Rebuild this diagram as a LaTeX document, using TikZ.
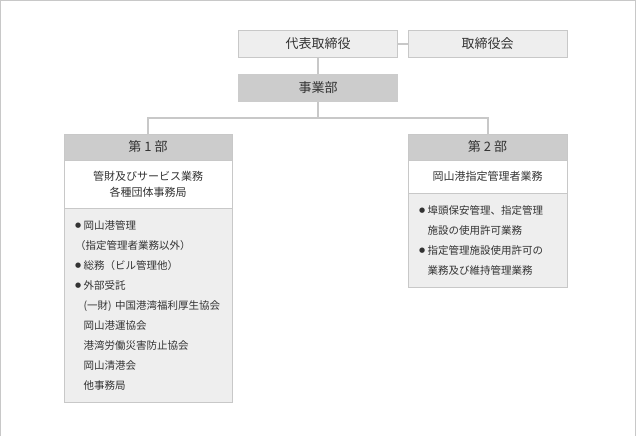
\documentclass[tikz,border=0pt]{standalone}
\usepackage{fontspec}
\setmainfont{Noto Sans CJK JP}
\newfontfamily\symfont{DejaVu Sans}
\usetikzlibrary{positioning}
\definecolor{linegray}{HTML}{C8C8C8}
\definecolor{boxgray}{HTML}{EEEEEE}
\definecolor{headgray}{HTML}{CCCCCC}
\definecolor{textgray}{HTML}{333333}
\newcommand{\bul}{\makebox[8.5pt][l]{\raisebox{1.6pt}{\symfont\fontsize{7}{7}\selectfont ●}}}
\newcommand{\ind}{\hspace*{8.5pt}}
\begin{document}
\begin{tikzpicture}[
  x=1pt, y=-1pt,
  every node/.style={inner sep=0pt, outer sep=0pt, text=textgray},
  topbox/.style={draw=linegray, line width=1pt, fill=boxgray, minimum width=159pt, minimum height=27pt, font=\fontsize{13}{13}\selectfont},
  divbox/.style={fill=headgray, minimum width=160pt, minimum height=28pt, font=\fontsize{13}{13}\selectfont},
  headbox/.style={draw=linegray, line width=1pt, fill=headgray, minimum height=26pt, font=\fontsize{13}{13}\selectfont},
  descbox/.style={draw=linegray, line width=1pt, fill=white, align=center, font=\fontsize{11}{16}\selectfont},
  listbox/.style={draw=linegray, line width=1pt, fill=boxgray, align=left, inner xsep=11pt, font=\fontsize{10.5}{20}\selectfont},
  link/.style={draw=linegray, line width=2pt}
]
\useasboundingbox (0,0) rectangle (636,436);
\draw[linegray, line width=1pt] (0.5,436) -- (0.5,0.5) -- (635.5,0.5) -- (635.5,436);

\node[topbox] (ceo) at (318,44) {代表取締役};
\node[topbox] (board) at (487.5,44) {取締役会};
\node[divbox] (div) at (318,88) {事業部};

\node[headbox, minimum width=168pt] (dept1) at (148,147) {第 1 部};
\node[descbox, minimum width=168pt, minimum height=48pt, below=0pt of dept1] (desc1) {管財及びサービス業務\\各種団体事務局};
\node[listbox, text width=146pt, minimum height=194pt, below=0pt of desc1] (list1) {%
\bul 岡山港管理\\
（指定管理者業務以外）\\
\bul 総務（ビル管理他）\\
\bul 外部受託\\
\ind (一財) 中国港湾福利厚生協会\\
\ind 岡山港運協会\\
\ind 港湾労働災害防止協会\\
\ind 岡山清港会\\
\ind 他事務局};

\node[headbox, minimum width=159pt] (dept2) at (487.5,147) {第 2 部};
\node[descbox, minimum width=159pt, minimum height=33pt, below=0pt of dept2] (desc2) {岡山港指定管理者業務};
\node[listbox, text width=137pt, minimum height=94pt, below=0pt of desc2] (list2) {%
\bul 埠頭保安管理、指定管理\\
\ind 施設の使用許可業務\\
\bul 指定管理施設使用許可の\\
\ind 業務及び維持管理業務};

\draw[link] (ceo) -- (board);
\draw[link] (ceo) -- (div);
\draw[link] (div.south) -- ++(0,16) -| (dept1.north);
\draw[link] (div.south) -- ++(0,16) -| (dept2.north);
\end{tikzpicture}
\end{document}
